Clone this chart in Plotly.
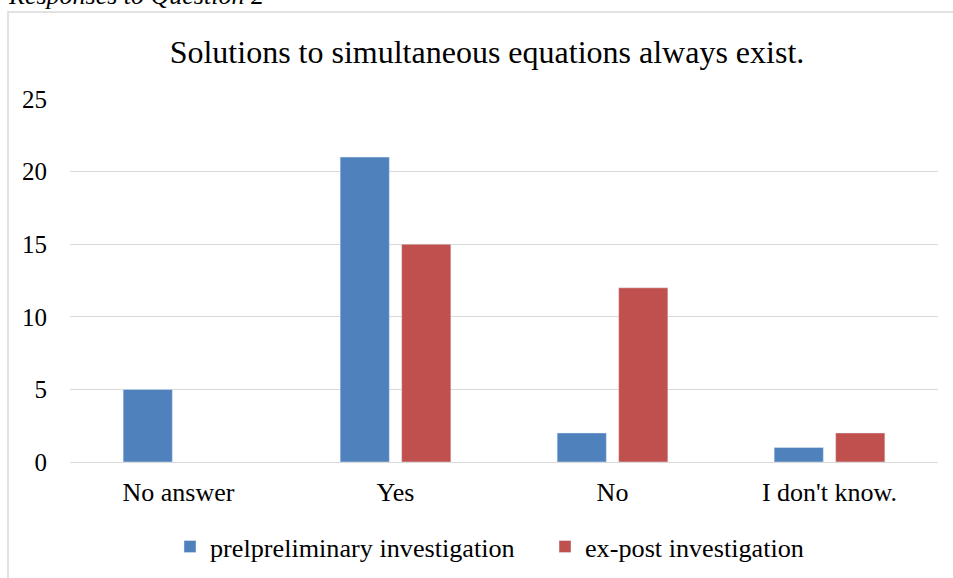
import plotly.graph_objects as go

categories = ["No answer", "Yes", "No", "I don't know."]
prelim = [5, 21, 2, 1]
expost = [None, 15, 12, 2]
series_names = ["prelpreliminary investigation", "ex-post investigation"]
title_text = "Solutions to simultaneous equations always exist."
caption_text = "Responses to Question 2"

FONT = "Liberation Serif"

fig = go.Figure()
fig.add_trace(go.Bar(x=categories, y=prelim, name=series_names[0], marker=dict(color="#4f81bd")))
fig.add_trace(go.Bar(x=categories, y=expost, name=series_names[1], marker=dict(color="#c0504d")))

W, H = 953, 578
ml, mr, mt, mb = 70, 15, 99, 116
pw, ph = W - ml - mr, H - mt - mb

def px_to_paper_x(px):
    return (px - ml) / pw

def px_to_paper_y(py):
    return (H - mb - py) / ph

fig.update_layout(
    width=W, height=H,
    margin=dict(l=ml, r=mr, t=mt, b=mb, autoexpand=False),
    paper_bgcolor="white", plot_bgcolor="white",
    font=dict(family=FONT, color="#000000", size=26),
    bargap=0.433, bargroupgap=0.2,
    title=dict(text=title_text, x=0.511, xanchor="center", y=1 - 52 / H, yanchor="middle",
               font=dict(size=32, family=FONT, color="#000000")),
    showlegend=True,
    legend=dict(orientation="h", x=px_to_paper_x(170), xanchor="left", y=px_to_paper_y(547), yanchor="middle",
                font=dict(size=26.2, family=FONT), itemwidth=30, tracegroupgap=0,
                entrywidth=330, entrywidthmode="pixels"),
    xaxis=dict(showgrid=False, showline=True, linecolor="#d9d9d9", linewidth=1, ticks="",
               tickfont=dict(size=26), ticklabelstandoff=7, automargin=False),
    yaxis=dict(range=[0, 25], dtick=5, showgrid=True, gridcolor="#d9d9d9", gridwidth=1,
               zeroline=False, showline=False, ticks="", tickfont=dict(size=25),
               ticklabelstandoff=22, automargin=False),
    shapes=[dict(type="rect", xref="paper", yref="paper",
                 x0=px_to_paper_x(8), x1=px_to_paper_x(1000),
                 y0=px_to_paper_y(700), y1=px_to_paper_y(12),
                 line=dict(color="#d9d9d9", width=1.5), fillcolor="rgba(0,0,0,0)", layer="below")],
    annotations=[dict(text="<i>" + caption_text + "</i>", xref="paper", yref="paper",
                      x=px_to_paper_x(6), xanchor="left", y=px_to_paper_y(-5), yanchor="middle",
                      showarrow=False, font=dict(size=26, family=FONT, color="#000000"))],
)

fig.write_html("out.html", config={"displayModeBar": False},
               post_script="document.body.style.margin='0';document.body.style.padding='0';")
